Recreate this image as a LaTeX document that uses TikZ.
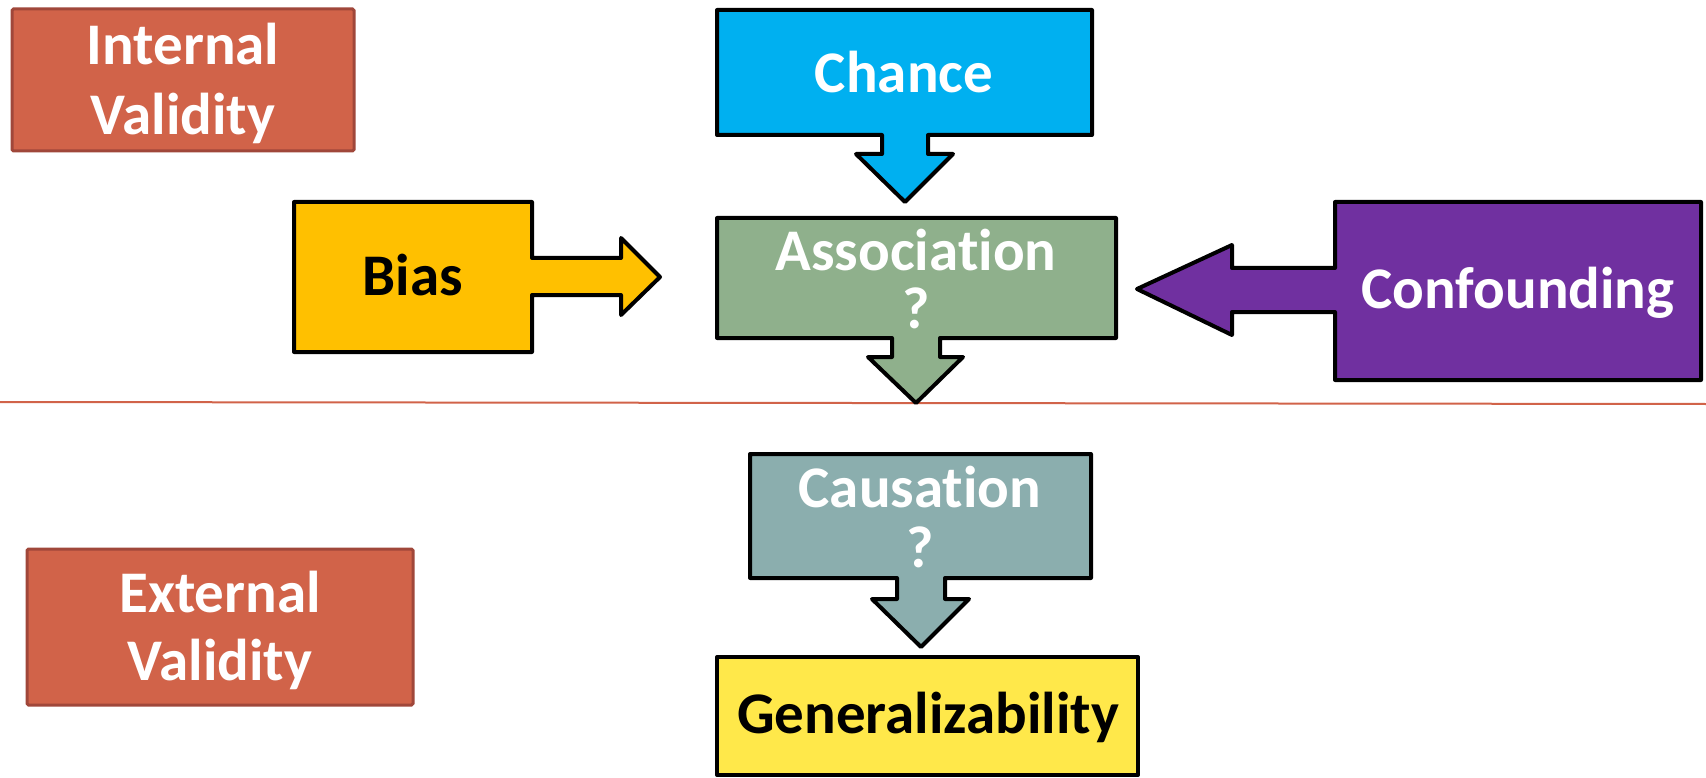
\documentclass[tikz,border=0pt]{standalone}
\usepackage{fontspec}
\setmainfont[Ligatures={NoCommon,NoRequired,NoContextual}]{Carlito}
\definecolor{validred}{HTML}{D16349}
\definecolor{validedge}{HTML}{A0473A}
\definecolor{chanceblue}{HTML}{00B0F0}
\definecolor{biasgold}{HTML}{FFC000}
\definecolor{assocgreen}{HTML}{8FB08C}
\definecolor{confpurple}{HTML}{7030A0}
\definecolor{causegrey}{HTML}{8BAEAE}
\definecolor{genyellow}{HTML}{FFE84A}
\tikzset{
  callout/.style={draw=black,line width=4pt,line join=round},
  validbox/.style={fill=validred,draw=validedge,line width=3pt,rounded corners=1.5pt},
  boxtext/.style={font=\bfseries\fontsize{59}{70}\selectfont,text=white,inner sep=0pt,align=center,anchor=base}
}
\begin{document}
\begin{tikzpicture}[x=1pt,y=-1pt]
            \useasboundingbox (0,0) rectangle (1706,778);
            % (validity labels and the dividing line)
            \draw [validbox] (12,9) rectangle (354,151);
            \draw [validbox] (27,549) rectangle (413,705);
            \draw [validred,line width=2pt] (0,402) -- (1706,404);
            % (callouts)
            \draw [callout,fill=chanceblue] (717,10) -- (1092,10) -- (1092,135) -- (928,135) -- (928,154) -- (953,154) -- (905,202) -- (856,154) -- (882,154) -- (882,135) -- (717,135) -- cycle;
            \draw [callout,fill=biasgold] (294,202) -- (532,202) -- (532,258) -- (621,258) -- (621,238) -- (660,277) -- (621,315) -- (621,295) -- (532,295) -- (532,352) -- (294,352) -- cycle;
            \draw [callout,fill=assocgreen] (717,218) -- (1116,218) -- (1116,338) -- (940,338) -- (940,357) -- (963,357) -- (916,403) -- (868,357) -- (892,357) -- (892,338) -- (717,338) -- cycle;
            \draw [callout,fill=confpurple] (1335,202) -- (1701,202) -- (1701,380) -- (1335,380) -- (1335,312) -- (1232,312) -- (1232,335) -- (1137,289) -- (1232,245) -- (1232,268) -- (1335,268) -- cycle;
            \draw [callout,fill=causegrey] (750,454) -- (1091,454) -- (1091,578) -- (945,578) -- (945,599) -- (969,599) -- (921,647) -- (872,599) -- (897,599) -- (897,578) -- (750,578) -- cycle;
            \draw [callout,fill=genyellow] (717,657) rectangle (1138,775);
            % (texts, placed at the baseline of their last line)
            \node [boxtext] (internal) at (183,135) {Internal\\Validity};
            \node [boxtext,font=\bfseries\fontsize{59}{68}\selectfont] (external) at (220,680) {External\\Validity};
            \node [boxtext] (chance) at (904,93) {Chance};
            \node [boxtext,text=black] (bias) at (413,295) {Bias};
            \node [boxtext,font=\bfseries\fontsize{59}{58}\selectfont] (assoc) at (916,328) {Association\\?};
            \node [boxtext] (confound) at (1518,308) {Confounding};
            \node [boxtext,font=\bfseries\fontsize{59}{60}\selectfont] (cause) at (920,567) {Causation\\?};
            \node [boxtext,text=black] (general) at (928,733) {Generalizability};
\end{tikzpicture}
\end{document}
